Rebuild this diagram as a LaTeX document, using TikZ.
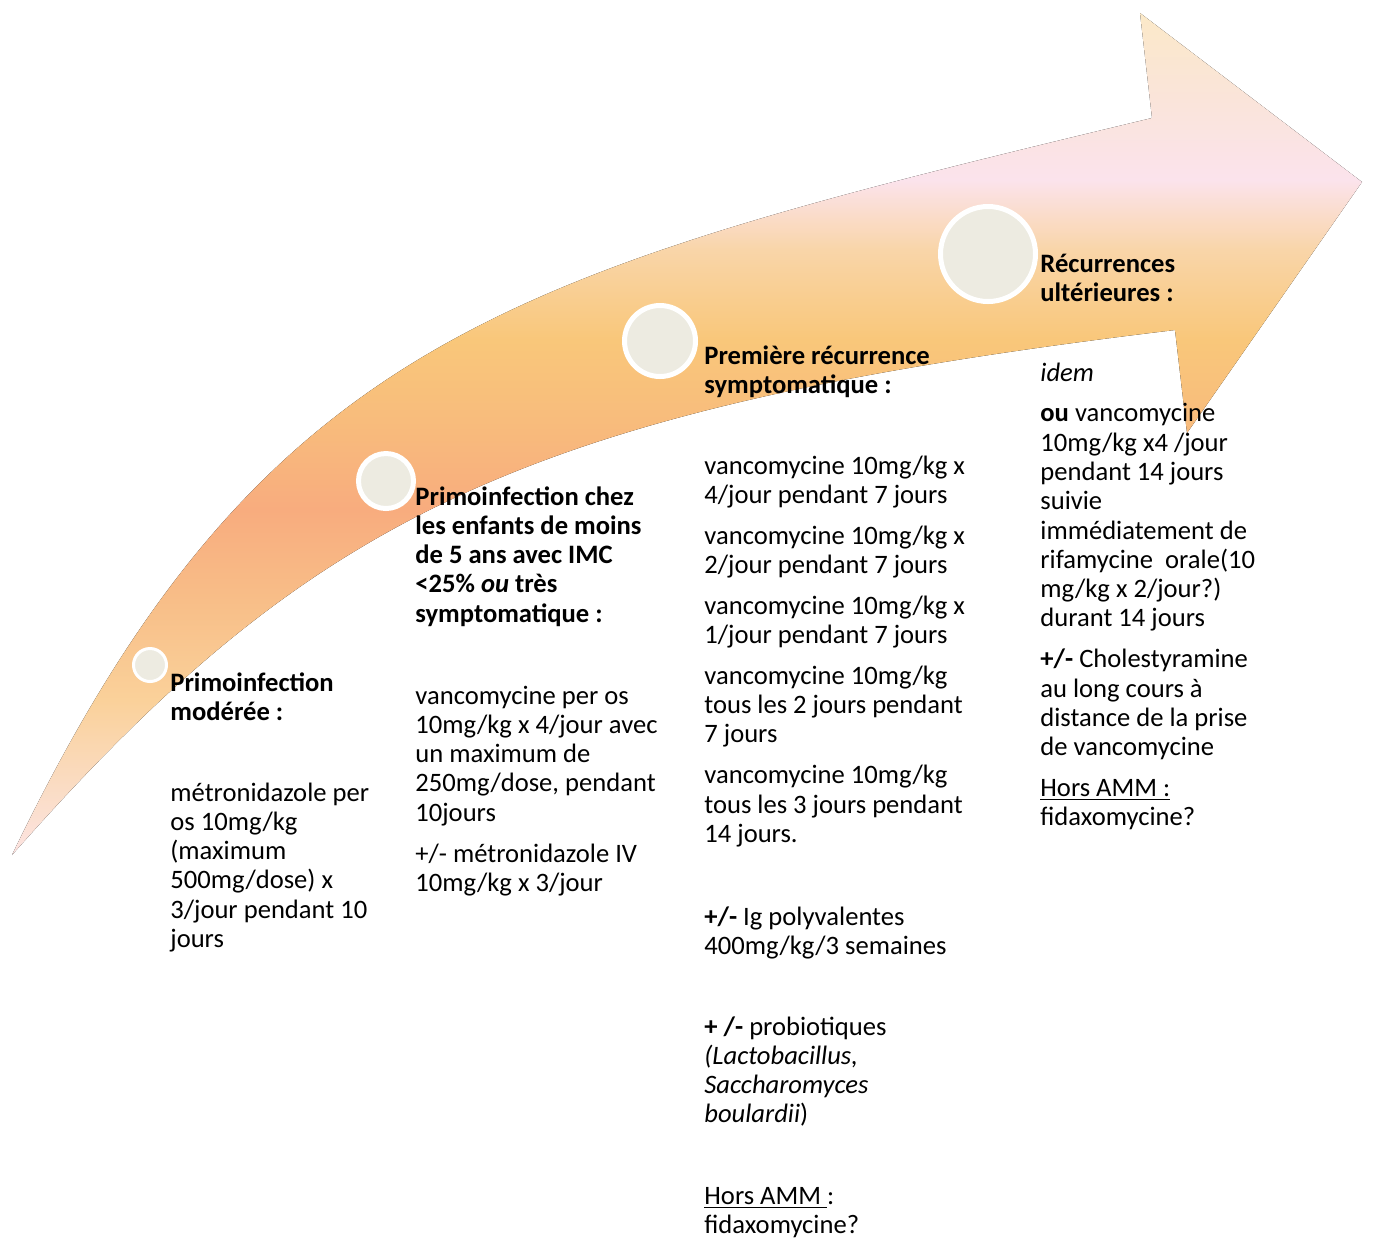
\documentclass[tikz,border=0pt]{standalone}
\usepackage{fontspec}
\setmainfont{Carlito}

\definecolor{tailpink}{HTML}{FDE4E2}
\definecolor{peachpale}{HTML}{FADCC4}
\definecolor{lightorange}{HTML}{FAD19A}
\definecolor{orangemid}{HTML}{F8BE88}
\definecolor{salmon}{HTML}{F8AC7E}
\definecolor{orangewarm}{HTML}{F8BC7C}
\definecolor{yellowor}{HTML}{F9C77A}
\definecolor{peachlight}{HTML}{F9D5A8}
\definecolor{blushpink}{HTML}{FBE3EC}
\definecolor{blushpeach}{HTML}{FAE4DA}
\definecolor{cream}{HTML}{FBE9C8}
\definecolor{dotfill}{HTML}{EDEBE1}

\pgfdeclareverticalshading{arrowfade}{100bp}{color(0bp)=(tailpink); color(25bp)=(tailpink);
  color(29bp)=(peachpale); color(34.2bp)=(lightorange); color(40.1bp)=(orangemid);
  color(45.5bp)=(salmon); color(50.8bp)=(orangewarm); color(55.6bp)=(yellowor);
  color(60.9bp)=(peachlight); color(65.1bp)=(blushpink); color(69.8bp)=(blushpeach);
  color(75bp)=(cream); color(100bp)=(cream)}

\newcommand\lines[1]{\begin{tabular}[t]{@{}l@{}}#1\end{tabular}}
\newcommand\stepgap{5.75pt}

\tikzset{
  txt/.style={anchor=base west, inner sep=0pt, font=\fontsize{13.3}{14.65}\selectfont},
  head/.style={txt, font=\fontsize{13.3}{14.65}\selectfont\bfseries},
  dot/.style={circle, draw=white, fill=dotfill, inner sep=0pt}
}

\begin{document}
\begin{tikzpicture}[x=0.5pt, y=-0.5pt]
	\useasboundingbox (0,0) rectangle (1375,1239);

	% the curved arrow
	\fill[shading=arrowfade] (12,855) .. controls (262,335) and (512,272) .. (1152,118)
		-- (1140,13) -- (1362,182) -- (1187,433) -- (1175,330)
		.. controls (525,408) and (312,515) .. (12,855) -- cycle;

	% stage markers
	\foreach \x/\y/\d/\w [count=\i] in {150/665/16.5/1.5, 386/481/27.5/2.5, 660/341/35.5/2.5, 988/254/47.5/2.5}
		\node[dot, minimum size=\d pt, line width=\w pt] (m\i) at (\x,\y) {};

	% stage 1
	\node[head] (hmod) at (170,691) {\lines{Primoinfection\\modérée :}};
	\node[txt] (tmod) at (170,801) {\lines{métronidazole per\\os 10mg/kg\\(maximum\\500mg/dose) x\\3/jour pendant 10\\jours}};

	% stage 2
	\node[head] (henf) at (415,505) {\lines{Primoinfection chez\\les enfants de moins\\de 5 ans avec IMC\\<25\% \textit{ou} très\\symptomatique :}};
	\node[txt] (tenf) at (415,704) {\lines{vancomycine per os\\10mg/kg x 4/jour avec\\un maximum de\\250mg/dose, pendant\\10jours\\[\stepgap]+/- métronidazole IV\\10mg/kg x 3/jour}};

	% stage 3
	\node[head] (hrec) at (704,364) {\lines{Première récurrence\\symptomatique :}};
	\node[txt] (trec) at (704,474) {\lines{vancomycine 10mg/kg x\\4/jour pendant 7 jours\\[\stepgap]
		vancomycine 10mg/kg x\\2/jour pendant 7 jours\\[\stepgap]
		vancomycine 10mg/kg x\\1/jour pendant 7 jours\\[\stepgap]
		vancomycine 10mg/kg\\tous les 2 jours pendant\\7 jours\\[\stepgap]
		vancomycine 10mg/kg\\tous les 3 jours pendant\\14 jours.}};
	\node[txt] (tig) at (704,925) {\lines{\textbf{+/-} Ig polyvalentes\\400mg/kg/3 semaines}};
	\node[txt] (tpro) at (704,1035) {\lines{\textbf{+ /-} probiotiques\\\textit{(Lactobacillus,}\\\textit{Saccharomyces}\\\textit{boulardii})}};
	\node[txt] (tamm) at (704,1204) {\lines{\underline{Hors AMM\ }:\\fidaxomycine?}};

	% stage 4
	\node[head] (hult) at (1040,272) {\lines{Récurrences\\ultérieures :}};
	\node[txt] (tult) at (1040,381) {\lines{\textit{idem}\\[\stepgap]
		\textbf{ou} vancomycine\\10mg/kg x4 /jour\\pendant 14 jours\\suivie\\immédiatement de\\rifamycine\ \ orale(10\\mg/kg x 2/jour?)\\durant 14 jours\\[\stepgap]
		\textbf{+/-} Cholestyramine\\au long cours à\\distance de la prise\\de vancomycine\\[\stepgap]
		\underline{Hors AMM :}\\fidaxomycine?}};
\end{tikzpicture}
\end{document}
